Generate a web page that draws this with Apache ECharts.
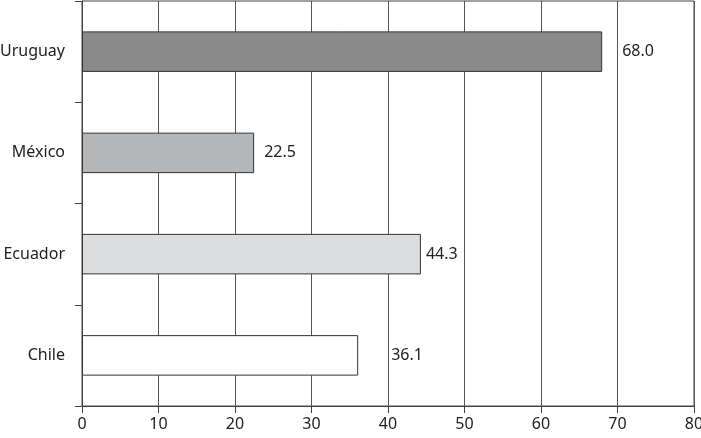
<!DOCTYPE html>
<html>
<head>
<meta charset="utf-8">
<script src="https://cdn.jsdelivr.net/npm/echarts@6/dist/echarts.min.js"></script>
<style>
  html, body { margin: 0; padding: 0; background: #fff; }
  #chart { width: 701px; height: 438px; }
</style>
</head>
<body>
<div id="chart"></div>
<script>
const countries = ["Uruguay", "México", "Ecuador", "Chile"];
const values = [68.0, 22.5, 44.3, 36.1];
const xTicks = [0, 10, 20, 30, 40, 50, 60, 70, 80];

// fill per bar, and how far each value label sits from its bar end
const barColors = ["#8a8a8a", "#b4b6b8", "#dcdddf", "#ffffff"];
const labelGaps = [20, 10, 5, 33];

const chart = echarts.init(document.getElementById("chart"));
const font = "'Noto Sans', 'DejaVu Sans', sans-serif";

chart.setOption({
  animation: false,
  grid: {
    left: 82, right: 7, top: 1, bottom: 32,
    outerBoundsMode: "none",
    containLabel: false,
    show: true, borderColor: "#444", borderWidth: 1,
  },
  xAxis: {
    type: "value",
    min: xTicks[0],
    max: xTicks[xTicks.length - 1],
    interval: 10,
    axisLine: { show: true, lineStyle: { color: "#444", width: 1 } },
    axisTick: { show: true, length: 7, lineStyle: { color: "#444" } },
    splitLine: { show: true, lineStyle: { color: "#555", width: 1 } },
    axisLabel: { color: "#222", fontSize: 16, fontFamily: font, margin: 10 },
  },
  yAxis: {
    type: "category",
    data: countries,
    inverse: true,
    axisLine: { show: true, lineStyle: { color: "#444", width: 1 } },
    axisTick: { show: true, length: 7, lineStyle: { color: "#444" } },
    axisLabel: { color: "#222", fontSize: 16, fontFamily: font, margin: 17 },
  },
  series: [
    {
      type: "bar",
      barWidth: "40%",
      data: values.map((v, i) => ({
        value: v,
        itemStyle: { color: barColors[i] },
        label: { distance: labelGaps[i] },
      })),
      itemStyle: { borderColor: "#333", borderWidth: 1 },
      label: {
        show: true,
        position: "right",
        color: "#222",
        fontSize: 16,
        fontFamily: font,
        formatter: (p) => p.value.toFixed(1),
      },
    },
  ],
});
</script>
</body>
</html>
